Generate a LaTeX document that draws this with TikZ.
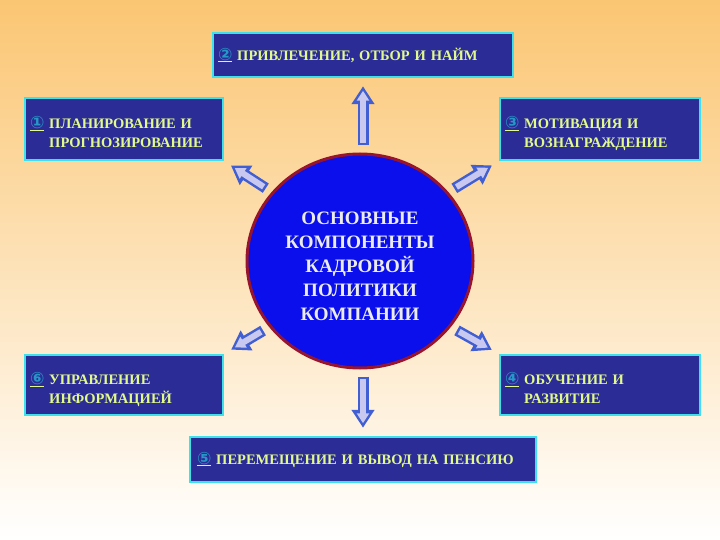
\documentclass[tikz,border=0pt]{standalone}
\usepackage{fontspec}
\setmainfont{Liberation Serif}
\newfontfamily\symfont{DejaVu Sans}
\usepackage{tikz}
\usetikzlibrary{arrows.meta,shapes.geometric}

\definecolor{boxfill}{RGB}{44,44,150}
\definecolor{boxline}{RGB}{60,225,235}
\definecolor{txtcol}{RGB}{225,250,140}
\definecolor{numcol}{RGB}{40,150,200}
\definecolor{hubfill}{RGB}{10,15,235}
\definecolor{hubline}{RGB}{150,20,45}
\definecolor{arrline}{RGB}{65,95,210}
\definecolor{arrfill}{RGB}{200,200,240}
\definecolor{bgtop}{RGB}{251,198,115}
\definecolor{bgmid}{RGB}{254,225,180}

\newcommand\nmb[1]{\underline{\textcolor{numcol}{\symfont\fontsize{17}{19}\selectfont #1}}}

\begin{document}
\begin{tikzpicture}[x=1pt,y=-1pt,
    box/.style={draw=boxline,line width=2.5pt,fill=boxfill,text=txtcol,
      inner sep=5pt,align=left,font=\bfseries\fontsize{14.5}{19}\selectfont},
    twoline/.style={text height=27pt,text depth=10pt},
    hub/.style={ellipse,draw=hubline,line width=3pt,fill=hubfill,
      minimum width=226pt,minimum height=214pt},
    title/.style={text=white!92!black,align=center,
      font=\bfseries\fontsize{19}{24}\selectfont},
    blk/.style={draw=arrline,line width=11pt,-{Triangle[length=18pt,width=22pt]},
      shorten <=7pt,shorten >=8pt,
      postaction={draw=arrfill,line width=6pt,-{Triangle[length=10pt,width=12pt]},
        shorten <=9.5pt,shorten >=12.5pt}}]
%  background
  \shade[top color=bgtop,middle color=bgmid,bottom color=white]
    (0,0) rectangle (720,540);

  \node[hub] (core) at (360,261) {};
  \node[title] (corelabel) at (360,266)
    {ОСНОВНЫЕ\\КОМПОНЕНТЫ\\КАДРОВОЙ\\ПОЛИТИКИ\\КОМПАНИИ};

  \node[box,text width=290pt,minimum height=44pt] (hire)  at (363,55)
    {\nmb{②} ПРИВЛЕЧЕНИЕ, ОТБОР И НАЙМ};
  \node[box,twoline,text width=188pt,minimum height=62pt] (plan)  at (124,129)
    {\begin{tabular}{@{}l@{ }l@{}}\nmb{①}&ПЛАНИРОВАНИЕ И\\&ПРОГНОЗИРОВАНИЕ\end{tabular}};
  \node[box,twoline,text width=190pt,minimum height=62pt] (motiv) at (600,129)
    {\begin{tabular}{@{}l@{ }l@{}}\nmb{③}&МОТИВАЦИЯ И\\&ВОЗНАГРАЖДЕНИЕ\end{tabular}};
  \node[box,twoline,text width=188pt,minimum height=60pt] (info)  at (124,385)
    {\begin{tabular}{@{}l@{ }l@{}}\nmb{⑥}&УПРАВЛЕНИЕ\\&ИНФОРМАЦИЕЙ\end{tabular}};
  \node[box,twoline,text width=190pt,minimum height=60pt] (train) at (600,385)
    {\begin{tabular}{@{}l@{ }l@{}}\nmb{④}&ОБУЧЕНИЕ И\\&РАЗВИТИЕ\end{tabular}};
  \node[box,text width=332pt,inner sep=7pt,minimum height=45pt] (move) at (363,459.5)
    {\nmb{⑤} ПЕРЕМЕЩЕНИЕ И ВЫВОД НА ПЕНСИЮ};

  \path (hire.south |- core.north) edge[blk] (hire.south)
        (core.142)   edge[blk] (plan.south east)
        (core.38)    edge[blk] (motiv.south west)
        (core.216)   edge[blk] (info.north east)
        (core.-36)   edge[blk] (train.north west)
        (move.north |- core.south) edge[blk] (move.north);

\end{tikzpicture}
\end{document}
